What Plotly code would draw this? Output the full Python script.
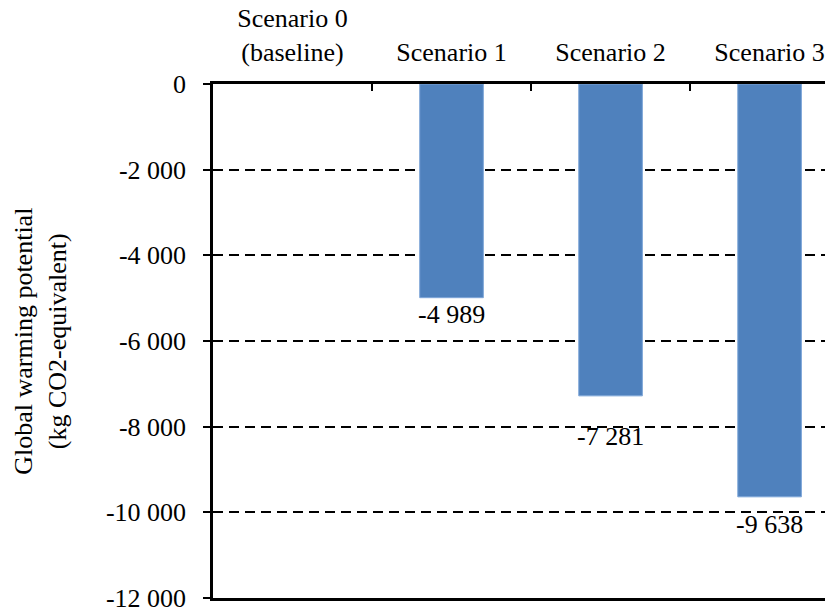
import plotly.graph_objects as go

categories = ["Scenario 0<br>(baseline)", "Scenario 1", "Scenario 2", "Scenario 3"]
values = [0, -4989, -7281, -9638]
value_labels = ["", "-4 989", "-7 281", "-9 638"]
label_offsets = [0, -17, -41, -28]  # pixel shift of each data label below the bar end
y_tickvals = [0, -2000, -4000, -6000, -8000, -10000, -12000]
y_ticktext = ["0", "-2 000", "-4 000", "-6 000", "-8 000", "-10 000", "-12 000"]
y_title = "Global warming potential<br>(kg CO2-equivalent)"

FONT = "'Liberation Serif', 'Times New Roman', 'DejaVu Serif', serif"
PAGE_OFF = 8  # browser body margin
W, H = 833, 610
ML, MR, MT, MB = 213 - PAGE_OFF, 0, 84 - PAGE_OFF, 12 + PAGE_OFF
cat_px = 157.0
plot_w = W - PAGE_OFF - ML - MR

fig = go.Figure()
fig.add_trace(go.Bar(
    x=categories, y=values, width=0.40,
    marker=dict(color="#4F81BD",
                line=dict(color="#7EA6D8", width=[0 if v == 0 else 1 for v in values])),
    hoverinfo="skip", showlegend=False,
))

for c, v, t, off in zip(categories, values, value_labels, label_offsets):
    if t:
        fig.add_annotation(x=c, y=v, text=t, showarrow=False, yanchor="middle",
                           yshift=off, font=dict(family=FONT, size=26, color="black"))

fig.add_annotation(xref="paper", yref="paper", x=-(213 - 42) / plot_w, y=0.5,
                   text=y_title, textangle=-90, showarrow=False,
                   xanchor="center", yanchor="middle",
                   font=dict(family=FONT, size=26, color="black"))

fig.update_layout(
    width=W, height=H,
    margin=dict(l=ML, r=MR, t=MT, b=MB, pad=0, autoexpand=False),
    paper_bgcolor="white", plot_bgcolor="white",
    font=dict(family=FONT, size=26, color="black"),
)
fig.update_xaxes(
    side="top", type="category", automargin=False,
    range=[-0.5, -0.5 + plot_w / cat_px],
    showline=True, linecolor="black", linewidth=2.5, mirror=True,
    ticks="inside", tickson="boundaries", ticklen=7, tickwidth=2, tickcolor="black",
    showgrid=False, tickfont=dict(family=FONT, size=26, color="black"),
    ticklabelstandoff=10,
)
fig.update_yaxes(
    range=[-12000, 0], automargin=False,
    tickvals=y_tickvals, ticktext=y_ticktext,
    showline=True, linecolor="black", linewidth=2.5,
    ticks="outside", ticklen=7, tickwidth=2, tickcolor="black",
    showgrid=True, gridcolor="black", gridwidth=2, griddash="10px,6px",
    zeroline=False, tickfont=dict(family=FONT, size=26, color="black"),
    ticklabelstandoff=12,
)

fig.write_html("out.html")
